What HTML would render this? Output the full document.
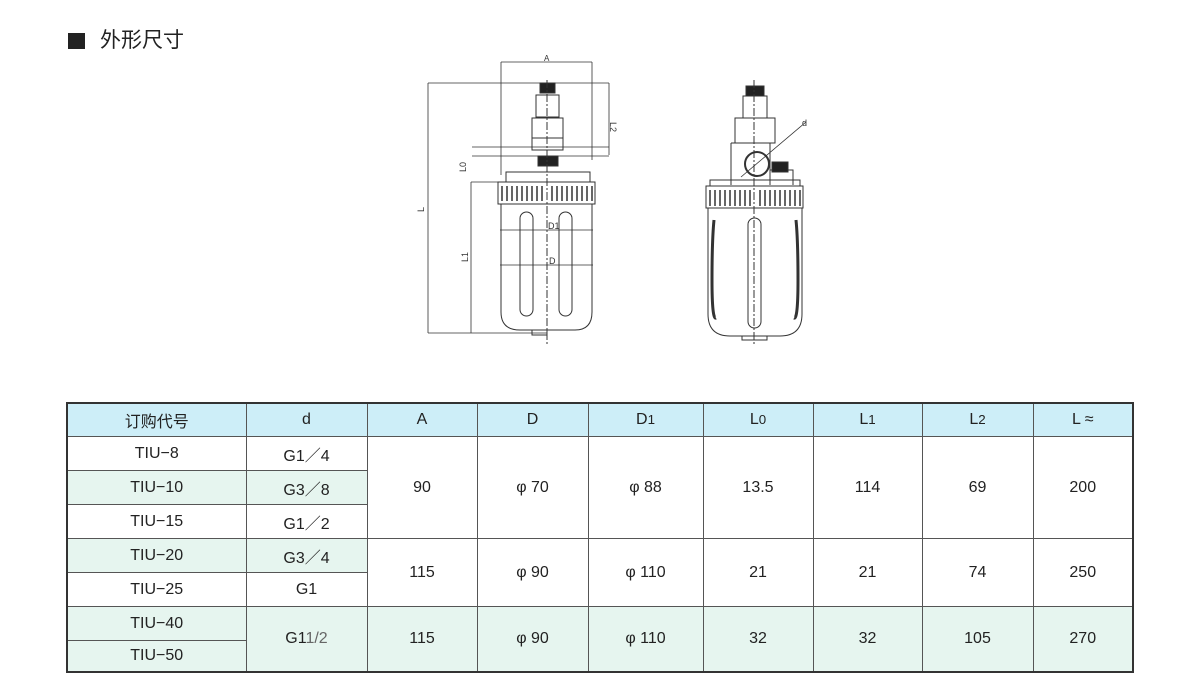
<!DOCTYPE html>
<html><head><meta charset="utf-8"><style>
body{margin:0;width:1200px;height:698px;background:#fff;position:relative;overflow:hidden;font-family:"Liberation Sans","Noto Sans CJK SC",sans-serif;color:#222}
.t{position:absolute;left:68px;top:29px;font-size:21px;line-height:24px}
.sq{position:absolute;left:68px;top:33px;width:17px;height:16px;background:#222}
table{position:absolute;left:66px;top:402px;border-collapse:collapse;border:2px solid #333;font-size:16px}
td{border:1px solid #555;text-align:center;padding:0;height:33px}
tr.h td{background:#cdeef8;height:32px}
.g{background:#e6f5ef}
</style></head><body>
<div class="sq"></div><div class="t" style="left:100px">外形尺寸</div>
<svg style="position:absolute;left:0;top:0" width="1200" height="400" fill="none" stroke="#333" stroke-width="1">
<path d="M501 62H592M501 62V175M592 62V160M428 83H609M609 83V155M428 83V333M428 333H547M471 182V333M471 182H500M472 147H609M472 156H609M500 230H593M500 265H593" stroke-width="0.8"/>
<text x="544" y="61" font-size="8" fill="#333" stroke="none">A</text>
<text x="610" y="122" font-size="9" fill="#333" stroke="none" transform="rotate(90 610 122)">L2</text>
<text x="466" y="172" font-size="9" fill="#333" stroke="none" transform="rotate(-90 466 172)">L0</text>
<text x="424" y="212" font-size="9" fill="#333" stroke="none" transform="rotate(-90 424 212)">L</text>
<text x="468" y="262" font-size="9" fill="#333" stroke="none" transform="rotate(-90 468 262)">L1</text>
<text x="548" y="229" font-size="9" fill="#333" stroke="none">D1</text>
<text x="549" y="264" font-size="9" fill="#333" stroke="none">D</text>
<rect x="540" y="83" width="15" height="10" fill="#222"/>
<rect x="536" y="95" width="23" height="22"/>
<rect x="532" y="118" width="31" height="32"/>
<path d="M532 138H563"/>
<rect x="538" y="156" width="20" height="10" fill="#222"/>
<rect x="506" y="172" width="84" height="10"/>
<rect x="498" y="182" width="97" height="22"/>
<path d="M502 186V201M507 186V201M512 186V201M517 186V201M522 186V201M527 186V201M532 186V201M537 186V201M542 186V201M552 186V201M557 186V201M562 186V201M567 186V201M572 186V201M577 186V201M582 186V201M587 186V201M592 186V201" stroke-width="1.5"/>
<path d="M501 204V312Q501 330 520 330H575Q592 330 592 312V204"/>
<rect x="520" y="212" width="13" height="104" rx="6.5"/><rect x="559" y="212" width="13" height="104" rx="6.5"/>
<rect x="532" y="330" width="15" height="5"/>
<path d="M547 80V345" stroke-dasharray="8 2 2 2"/>
<rect x="746" y="86" width="18" height="10" fill="#222"/>
<rect x="743" y="96" width="24" height="22"/>
<rect x="735" y="118" width="40" height="25"/>
<path d="M731 143H770V185M731 143V185M770 170H793V185" />
<rect x="772" y="162" width="16" height="10" fill="#222"/>
<circle cx="757" cy="164" r="12" stroke-width="2"/>
<path d="M741 177L806 122" stroke-width="0.8"/>
<text x="802" y="126" font-size="9" fill="#333" stroke="none">d</text>
<rect x="710" y="180" width="90" height="6"/>
<rect x="706" y="186" width="97" height="22"/>
<path d="M710 190V206M715 190V206M720 190V206M725 190V206M730 190V206M735 190V206M740 190V206M745 190V206M750 190V206M760 190V206M765 190V206M770 190V206M775 190V206M780 190V206M785 190V206M790 190V206M795 190V206M800 190V206" stroke-width="1.5"/>
<path d="M708 208V314Q708 336 730 336H780Q802 336 802 314V208"/>
<path d="M714 220Q712 240 712 280T716 318M796 220Q798 240 798 280T794 318" stroke-width="3"/>
<rect x="748" y="218" width="13" height="110" rx="6.5"/>
<rect x="742" y="336" width="25" height="4"/>
<path d="M754 80V345" stroke-dasharray="8 2 2 2"/>
</svg>
<table>
<colgroup><col style="width:179px"><col style="width:121px"><col style="width:110px"><col style="width:111px"><col style="width:115px"><col style="width:110px"><col style="width:109px"><col style="width:111px"><col style="width:100px"></colgroup>
<tr class="h"><td>订购代号</td><td>d</td><td>A</td><td>D</td><td>D<small>1</small></td><td>L<small>0</small></td><td>L<small>1</small></td><td>L<small>2</small></td><td>L ≈</td></tr>
<tr><td>TIU−8</td><td>G1／4</td><td rowspan="3">90</td><td rowspan="3">φ 70</td><td rowspan="3">φ 88</td><td rowspan="3">13.5</td><td rowspan="3">114</td><td rowspan="3">69</td><td rowspan="3">200</td></tr>
<tr class="g"><td>TIU−10</td><td>G3／8</td></tr>
<tr><td>TIU−15</td><td>G1／2</td></tr>
<tr><td class="g">TIU−20</td><td class="g">G3／4</td><td rowspan="2">115</td><td rowspan="2">φ 90</td><td rowspan="2">φ 110</td><td rowspan="2">21</td><td rowspan="2">21</td><td rowspan="2">74</td><td rowspan="2">250</td></tr>
<tr><td>TIU−25</td><td>G1</td></tr>
<tr class="g"><td>TIU−40</td><td rowspan="2">G1<span style="color:#666">1/2</span></td><td rowspan="2">115</td><td rowspan="2">φ 90</td><td rowspan="2">φ 110</td><td rowspan="2">32</td><td rowspan="2">32</td><td rowspan="2">105</td><td rowspan="2">270</td></tr>
<tr class="g"><td style="height:30px">TIU−50</td></tr>
</table>
</body></html>
